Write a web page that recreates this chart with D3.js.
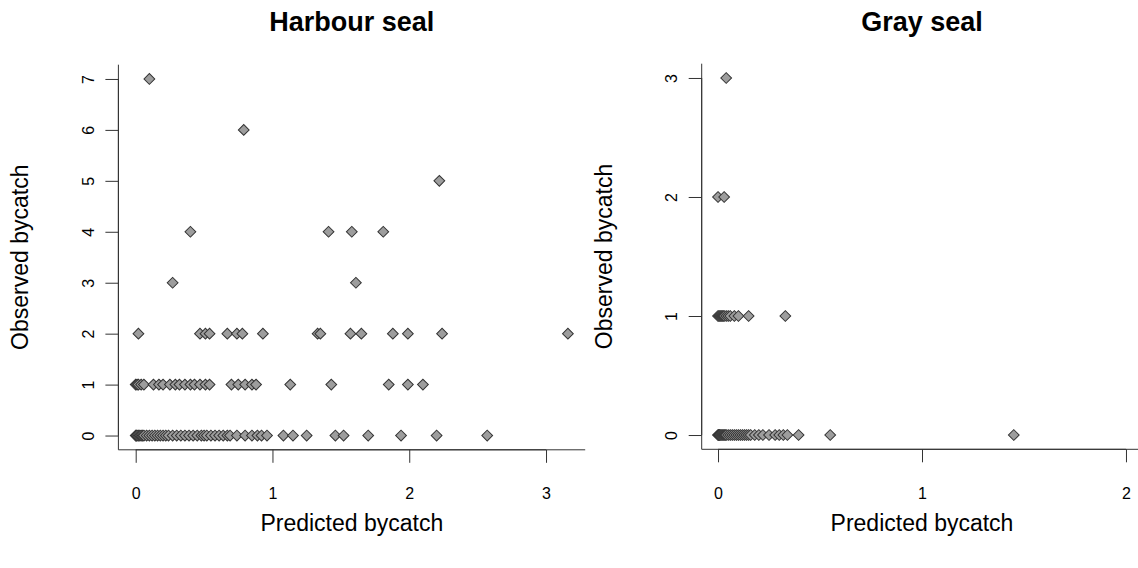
<!DOCTYPE html>
<html><head><meta charset="utf-8">
<script src="https://cdn.jsdelivr.net/npm/d3@7"></script>
<style>body{margin:0;background:#fff}svg{display:block}text{font-family:"Liberation Sans",Arial,sans-serif;fill:#000}</style>
</head><body><svg id="c" width="1138" height="568"></svg>
<script>
// Harbour seal: predicted bycatch values grouped by observed bycatch count
const harbourAt0 = [0,0.005,0.01,0.02,0.03,0.04,0.05,0.06,0.08,0.1,0.12,0.14,0.16,0.18,0.2,0.22,0.24,0.27,0.3,0.33,0.36,0.39,0.42,0.45,0.48,0.5,0.52,0.55,0.58,0.61,0.64,0.67,0.69,0.74,0.8,0.85,0.89,0.92,0.96,1.08,1.15,1.25,1.46,1.52,1.7,1.94,2.2,2.57];
const harbourAt1 = [0,0.01,0.02,0.04,0.06,0.13,0.17,0.2,0.25,0.29,0.32,0.36,0.4,0.43,0.47,0.51,0.54,0.7,0.75,0.8,0.85,0.88,1.13,1.43,1.85,1.99,2.1];
const harbourAt2 = [0.02,0.47,0.51,0.54,0.67,0.74,0.78,0.93,1.33,1.35,1.57,1.65,1.88,1.99,2.24,3.16];
const harbourAt3 = [0.27,1.61];
const harbourAt4 = [0.4,1.41,1.58,1.81];
const harbourAt5 = [2.22];
const harbourAt6 = [0.79];
const harbourAt7 = [0.1];
// Gray seal
const grayAt0 = [0,0.002,0.005,0.008,0.01,0.015,0.02,0.025,0.03,0.035,0.04,0.05,0.06,0.07,0.08,0.09,0.1,0.11,0.12,0.13,0.14,0.15,0.16,0.18,0.2,0.22,0.25,0.28,0.3,0.32,0.34,0.395,0.55,1.45];
const grayAt1 = [0,0.005,0.01,0.015,0.02,0.025,0.03,0.04,0.05,0.06,0.08,0.1,0.15,0.33];
const grayAt2 = [0,0.03];
const grayAt3 = [0.04];

const harbourXTicks = [0,1,2,3];
const harbourYTicks = [0,1,2,3,4,5,6,7];
const grayXTicks = [0,1,2];
const grayYTicks = [0,1,2,3];

const titles = ["Harbour seal","Gray seal"];
const xLabel = "Predicted bycatch";
const yLabel = "Observed bycatch";

function pairs(groups){
  const out=[];
  groups.forEach((arr,obs)=>arr.forEach(p=>out.push({x:p,y:obs})));
  return out;
}
const harbourData = pairs([harbourAt0,harbourAt1,harbourAt2,harbourAt3,harbourAt4,harbourAt5,harbourAt6,harbourAt7]);
const grayData = pairs([grayAt0,grayAt1,grayAt2,grayAt3]);

function ext(lo,hi){const d=(hi-lo)*0.04;return [lo-d,hi+d];}

const svg = d3.select("#c");
const panels = [
  {title:titles[0], data:harbourData, xd:ext(0,3.16), yd:ext(0,7), xr:[118.4,585.2], yr:[449.8,64.7], xt:harbourXTicks, yt:harbourYTicks},
  {title:titles[1], data:grayData, xd:ext(0,2), yd:ext(0,3), xr:[701.7,1142.3], yr:[449.3,63.7], xt:grayXTicks, yt:grayYTicks}
];
const sym = d3.symbol().type(d3.symbolSquare).size(58);
panels.forEach(p=>{
  const x=d3.scaleLinear().domain(p.xd).range(p.xr);
  const y=d3.scaleLinear().domain(p.yd).range(p.yr);
  const g=svg.append("g");
  const left=p.xr[0], bottom=p.yr[0];
  g.append("g").selectAll("path").data(p.data).join("path")
    .attr("d",sym)
    .attr("transform",d=>`translate(${x(d.x)},${y(d.y)}) rotate(45)`)
    .attr("fill","#9d9d9d").attr("stroke","#333").attr("stroke-width",1);
  g.append("path").attr("d",`M${left},${p.yr[1]}V${bottom}H${p.xr[1]}`)
    .attr("fill","none").attr("stroke","#333").attr("stroke-width",1);
  const xa=d3.axisBottom(x).tickValues(p.xt).tickFormat(d3.format("d")).tickSizeOuter(0).tickSize(13).tickPadding(25);
  const gx=g.append("g").attr("transform",`translate(0,${bottom})`).call(xa);
  gx.select(".domain").attr("d",`M${x(p.xt[0])},0H${x(p.xt[p.xt.length-1])}`);
  const ya=d3.axisLeft(y).tickValues(p.yt).tickFormat(d3.format("d")).tickSizeOuter(0).tickSize(13);
  const gy=g.append("g").attr("transform",`translate(${left},0)`).call(ya);
  gy.select(".domain").attr("d",`M0,${y(p.yt[0])}V${y(p.yt[p.yt.length-1])}`);
  [gx,gy].forEach(a=>{a.selectAll("path,line").attr("stroke","#333");a.selectAll("text").style("font-size","16px").style("font-family","Liberation Sans, Arial, sans-serif").attr("fill","#000");});
  gy.selectAll(".tick text").attr("x",null).attr("dy",null).attr("text-anchor","middle")
    .attr("transform","translate(-30,0) rotate(-90)").attr("dy","0.35em");
  const cx=(p.xr[0]+p.xr[1])/2;
  g.append("text").attr("x",cx).attr("y",31).attr("text-anchor","middle")
    .style("font-size","27px").style("font-weight","bold").text(p.title);
  g.append("text").attr("x",cx).attr("y",531).attr("text-anchor","middle")
    .style("font-size","23px").text(xLabel);
  const cy=(p.yr[0]+p.yr[1])/2;
  g.append("text").attr("transform",`translate(${left-90},${cy}) rotate(-90)`).attr("text-anchor","middle")
    .style("font-size","23px").text(yLabel);
});
</script></body></html>
